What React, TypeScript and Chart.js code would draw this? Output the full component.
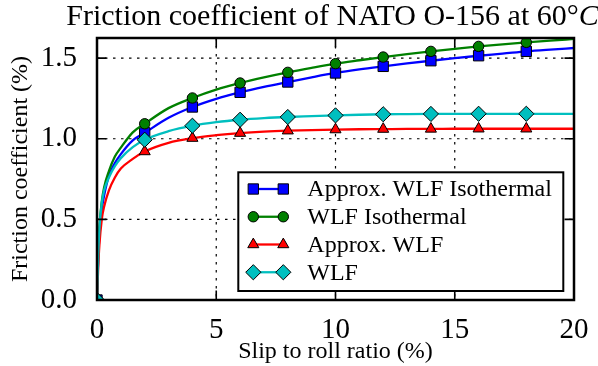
import React, { useEffect, useRef } from 'react';
import { Chart, registerables } from 'chart.js';

Chart.register(...registerables);

// ---- data ----
const slip = [0, 0.05, 0.1, 0.2, 0.3, 0.5, 0.75, 1, 1.5, 2, 3, 4, 5, 6, 7, 8, 9, 10, 11, 12, 13, 14, 15, 16, 17, 18, 19, 20];
const approxWlfIsothermal = [0, 0.25, 0.4, 0.56, 0.65, 0.77, 0.85, 0.905, 0.99, 1.037, 1.13, 1.197, 1.248, 1.288, 1.322, 1.352, 1.381, 1.408, 1.43, 1.449, 1.467, 1.484, 1.5, 1.515, 1.528, 1.542, 1.553, 1.563];
const wlfIsothermal = [0, 0.28, 0.45, 0.61, 0.7, 0.8, 0.89, 0.945, 1.04, 1.093, 1.19, 1.253, 1.305, 1.346, 1.381, 1.412, 1.44, 1.466, 1.487, 1.507, 1.525, 1.542, 1.558, 1.573, 1.586, 1.598, 1.609, 1.619];
const approxWlf = [0, 0.2, 0.34, 0.5, 0.58, 0.68, 0.76, 0.815, 0.875, 0.921, 0.975, 1.004, 1.022, 1.035, 1.044, 1.05, 1.054, 1.057, 1.059, 1.06, 1.061, 1.061, 1.062, 1.062, 1.062, 1.062, 1.062, 1.062];
const wlf = [0, 0.28, 0.44, 0.6, 0.68, 0.76, 0.83, 0.88, 0.948, 0.994, 1.047, 1.081, 1.103, 1.118, 1.128, 1.135, 1.14, 1.145, 1.149, 1.152, 1.153, 1.154, 1.155, 1.155, 1.155, 1.155, 1.155, 1.155];
const markerSlips = [0, 2, 4, 6, 8, 10, 12, 14, 16, 18];
const xTicks = [0, 5, 10, 15, 20];
const yTicks = [0, 0.5, 1.0, 1.5];
const seriesNames = ['Approx. WLF Isothermal', 'WLF Isothermal', 'Approx. WLF', 'WLF'];
const seriesValues = [approxWlfIsothermal, wlfIsothermal, approxWlf, wlf];
const seriesColors = ['#0000ff', '#008000', '#ff0000', '#00bfbf'];
const seriesMarkers = ['rect', 'circle', 'triangle', 'rectRot'];
const titleText = 'Friction coefficient of NATO O-156 at 60°';
const titleUnit = 'C';
const xTitle = 'Slip to roll ratio (%)';
const yTitle = 'Friction coefficient (%)';

const FONT = '"Liberation Serif", "Times New Roman", serif';
const markerRadii = [7.3, 5.2, 6.4, 7.6];

function drawMarker(ctx: CanvasRenderingContext2D, style: string, x: number, y: number, r: number, fill: string) {
  ctx.beginPath();
  if (style === 'circle') {
    ctx.arc(x, y, r, 0, Math.PI * 2);
  } else if (style === 'rect') {
    const s = r * Math.SQRT1_2;
    ctx.rect(x - s, y - s, 2 * s, 2 * s);
  } else if (style === 'triangle') {
    const c = Math.cos(Math.PI / 6) * r;
    ctx.moveTo(x, y - r);
    ctx.lineTo(x + c, y + r / 2);
    ctx.lineTo(x - c, y + r / 2);
    ctx.closePath();
  } else {
    ctx.moveTo(x - r, y);
    ctx.lineTo(x, y - r);
    ctx.lineTo(x + r, y);
    ctx.lineTo(x, y + r);
    ctx.closePath();
  }
  ctx.fillStyle = fill;
  ctx.fill();
  ctx.lineWidth = 1;
  ctx.strokeStyle = '#000';
  ctx.stroke();
}

export default function App() {
  const ref = useRef<HTMLCanvasElement>(null);

  useEffect(() => {
    document.body.style.margin = '0';
    const canvas = ref.current!;

    const framePlugin = {
      id: 'mplFrame',
      beforeDatasetsDraw(chart: any) {
        const { ctx, chartArea: a, scales } = chart;
        const x = scales.x, y = scales.y;
        ctx.save();
        ctx.strokeStyle = '#000';
        ctx.lineWidth = 1.2;
        ctx.setLineDash([2.5, 5.5]);
        ctx.beginPath();
        for (const v of xTicks) {
          const px = x.getPixelForValue(v);
          ctx.moveTo(px, a.top);
          ctx.lineTo(px, a.bottom);
        }
        for (const v of yTicks) {
          const py = y.getPixelForValue(v);
          ctx.moveTo(a.left, py);
          ctx.lineTo(a.right, py);
        }
        ctx.stroke();
        ctx.restore();
      },
      afterDatasetsDraw(chart: any) {
        const { ctx, chartArea: a, scales } = chart;
        const x = scales.x, y = scales.y;
        ctx.save();
        ctx.strokeStyle = '#000';
        ctx.lineWidth = 1.6;
        const tl = 9.5;
        ctx.beginPath();
        for (const v of xTicks) {
          const px = x.getPixelForValue(v);
          ctx.moveTo(px, a.bottom);
          ctx.lineTo(px, a.bottom - tl);
          ctx.moveTo(px, a.top);
          ctx.lineTo(px, a.top + tl);
        }
        for (const v of yTicks) {
          const py = y.getPixelForValue(v);
          ctx.moveTo(a.left, py);
          ctx.lineTo(a.left + tl, py);
          ctx.moveTo(a.right, py);
          ctx.lineTo(a.right - tl, py);
        }
        ctx.stroke();
        ctx.lineWidth = 2.5;
        ctx.strokeRect(a.left, a.top, a.right - a.left, a.bottom - a.top);
        ctx.restore();
      },
      afterDraw(chart: any) {
        const { ctx, chartArea: a } = chart;
        ctx.save();
        // title
        ctx.fillStyle = '#000';
        ctx.textBaseline = 'alphabetic';
        const fTitle = `30px ${FONT}`;
        const fTitleIt = `italic 30px ${FONT}`;
        ctx.font = fTitle;
        const w1 = ctx.measureText(titleText).width;
        ctx.font = fTitleIt;
        const w2 = ctx.measureText(titleUnit).width;
        const cx = (a.left + a.right) / 2 - 3;
        const start = cx - (w1 + w2) / 2;
        ctx.font = fTitle;
        ctx.textAlign = 'left';
        ctx.fillText(titleText, start, 25);
        ctx.font = fTitleIt;
        ctx.fillText(titleUnit, start + w1, 25);

        // legend
        const boxRight = a.right - 10.7;
        const boxBottom = a.bottom - 9;
        const boxLeft = boxRight - 325;
        const boxTop = boxBottom - 118.7;
        ctx.fillStyle = '#fff';
        ctx.fillRect(boxLeft, boxTop, boxRight - boxLeft, boxBottom - boxTop);
        ctx.strokeStyle = '#000';
        ctx.lineWidth = 2;
        ctx.strokeRect(boxLeft, boxTop, boxRight - boxLeft, boxBottom - boxTop);
        ctx.font = `24px ${FONT}`;
        ctx.textBaseline = 'middle';
        for (let i = 0; i < seriesNames.length; i++) {
          const ry = boxTop + 16.7 + i * 27.75;
          const x1 = boxLeft + 15, x2 = boxLeft + 45;
          ctx.strokeStyle = seriesColors[i];
          ctx.lineWidth = 2.3;
          ctx.beginPath();
          ctx.moveTo(x1, ry);
          ctx.lineTo(x2, ry);
          ctx.stroke();
          drawMarker(ctx, seriesMarkers[i], x1, ry, markerRadii[i], seriesColors[i]);
          drawMarker(ctx, seriesMarkers[i], x2, ry, markerRadii[i], seriesColors[i]);
          ctx.fillStyle = '#000';
          ctx.fillText(seriesNames[i], boxLeft + 69, ry + 1);
        }
        ctx.restore();
      },
    };

    const datasets = seriesNames.map((name, i) => ({
      label: name,
      data: slip.map((s, k) => ({ x: s, y: seriesValues[i][k] })),
      borderColor: seriesColors[i],
      backgroundColor: seriesColors[i],
      borderWidth: 2.3,
      pointStyle: seriesMarkers[i],
      pointBackgroundColor: seriesColors[i],
      pointBorderColor: '#000',
      pointBorderWidth: 1,
      pointRadius: (c: any) => (markerSlips.includes(slip[c.dataIndex]) ? markerRadii[i] : 0),
      pointHoverRadius: 0,
      cubicInterpolationMode: 'monotone' as const,
      fill: false,
      order: seriesNames.length - i,
    }));

    const chart = new Chart(canvas, {
      type: 'line',
      data: { datasets },
      plugins: [framePlugin],
      options: {
        animation: false,
        responsive: false,
        events: [],
        parsing: false,
        layout: { padding: { left: 0, top: 38, right: 24, bottom: 0 } },
        plugins: { legend: { display: false }, tooltip: { enabled: false }, title: { display: false } },
        scales: {
          x: {
            type: 'linear',
            min: 0,
            max: 20,
            grid: { display: false },
            border: { display: false },
            afterBuildTicks: (s: any) => { s.ticks = xTicks.map((v) => ({ value: v })); },
            afterFit: (s: any) => { s.height = 66; },
            ticks: {
              color: '#000',
              font: { family: FONT, size: 29 },
              padding: 5,
              maxRotation: 0,
              callback: (v: any) => String(v),
            },
            title: { display: true, text: xTitle, color: '#000', font: { family: FONT, size: 24 }, padding: { top: 0, bottom: 0 } },
          },
          y: {
            type: 'linear',
            min: 0,
            max: 1.625,
            grid: { display: false },
            border: { display: false },
            afterBuildTicks: (s: any) => { s.ticks = yTicks.map((v) => ({ value: v })); },
            afterFit: (s: any) => { s.width = 97; },
            ticks: {
              color: '#000',
              font: { family: FONT, size: 29 },
              padding: 12,
              callback: (v: any) => Number(v).toFixed(1),
            },
            title: { display: true, text: yTitle, color: '#000', font: { family: FONT, size: 24 }, padding: { top: 6, bottom: 0 } },
          },
        },
      },
    });

    return () => chart.destroy();
  }, []);

  return <canvas ref={ref} width={598} height={366} style={{ display: 'block', width: 598, height: 366 }} />;
}
